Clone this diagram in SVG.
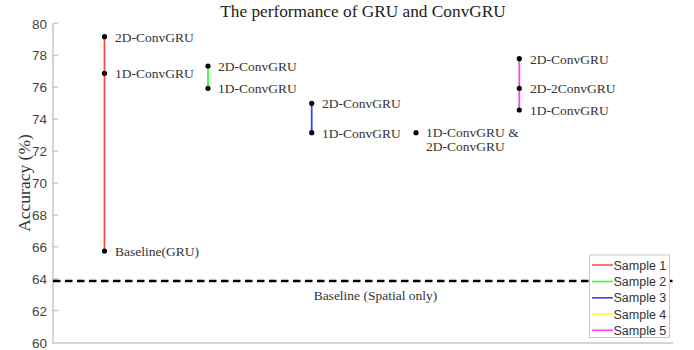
<svg xmlns="http://www.w3.org/2000/svg" width="694" height="350" viewBox="0 0 694 350">
<style>
.lbl{font-family:"Liberation Serif","Times New Roman",serif;font-size:13.5px;fill:#333}
.tick{font-family:"Liberation Sans",Arial,sans-serif;font-size:13.5px;fill:#444;text-anchor:end}
.leg{font-family:"Liberation Sans",Arial,sans-serif;font-size:12.5px;fill:#333}
.axis{stroke:#c8c8c8;stroke-width:1.5;fill:none}
.dot{fill:#000}
</style>
<rect width="694" height="350" fill="#fff"/>
<text x="363" y="17" text-anchor="middle" font-family="Liberation Serif,'Times New Roman',serif" font-size="17.3" fill="#222">The performance of GRU and ConvGRU</text>
<text transform="translate(30,183) rotate(-90)" text-anchor="middle" font-family="Liberation Serif,'Times New Roman',serif" font-size="17.5" fill="#333">Accuracy (%)</text>
<g id="axes">
<path class="axis" d="M53,23.5V343H673"/>
<path class="axis" d="M53,23.5h5M53,55.4h5M53,87.3h5M53,119.2h5M53,151.1h5M53,183h5M53,214.9h5M53,246.8h5M53,278.7h5M53,310.6h5"/>
<text class="tick" x="47" y="28.5">80</text>
<text class="tick" x="47" y="60.4">78</text>
<text class="tick" x="47" y="92.3">76</text>
<text class="tick" x="47" y="124.2">74</text>
<text class="tick" x="47" y="156.1">72</text>
<text class="tick" x="47" y="188">70</text>
<text class="tick" x="47" y="219.9">68</text>
<text class="tick" x="47" y="251.8">66</text>
<text class="tick" x="47" y="283.7">64</text>
<text class="tick" x="47" y="315.6">62</text>
<text class="tick" x="47" y="347.5">60</text>
</g>
<g id="baseline">
<line x1="53" y1="281" x2="676" y2="281" stroke="#000" stroke-width="2.5" stroke-dasharray="7.5,4.5"/>
<text class="lbl" x="375.5" y="300" text-anchor="middle">Baseline (Spatial only)</text>
</g>
<g id="connectors">
<line x1="104.5" y1="36.7" x2="104.5" y2="251" stroke="#ff4b4b" stroke-width="1.8"/>
<line x1="208" y1="66" x2="208" y2="88.3" stroke="#33ff33" stroke-width="1.8"/>
<line x1="311.7" y1="103.3" x2="311.7" y2="132.7" stroke="#3d3dff" stroke-width="1.8"/>
<line x1="519.3" y1="58.7" x2="519.3" y2="110" stroke="#ff40ff" stroke-width="1.8"/>
</g>
<g id="sample1">
<circle class="dot" cx="104.5" cy="36.7" r="2.6"/>
<circle class="dot" cx="104.5" cy="73.3" r="2.6"/>
<circle class="dot" cx="104.5" cy="251" r="2.6"/>
<text class="lbl" x="115" y="41.5">2D-ConvGRU</text>
<text class="lbl" x="115" y="78">1D-ConvGRU</text>
<text class="lbl" x="115" y="256">Baseline(GRU)</text>
</g>
<g id="sample2">
<circle class="dot" cx="208" cy="66" r="2.6"/>
<circle class="dot" cx="208" cy="88.3" r="2.6"/>
<text class="lbl" x="218" y="71">2D-ConvGRU</text>
<text class="lbl" x="218" y="93">1D-ConvGRU</text>
</g>
<g id="sample3">
<circle class="dot" cx="311.7" cy="103.3" r="2.6"/>
<circle class="dot" cx="311.7" cy="132.7" r="2.6"/>
<text class="lbl" x="322" y="108">2D-ConvGRU</text>
<text class="lbl" x="322" y="137.5">1D-ConvGRU</text>
</g>
<g id="sample4">
<circle class="dot" cx="416" cy="132.7" r="2.6"/>
<text class="lbl" x="426" y="137">1D-ConvGRU &amp;</text>
<text class="lbl" x="426" y="150.5">2D-ConvGRU</text>
</g>
<g id="sample5">
<circle class="dot" cx="519.3" cy="58.7" r="2.6"/>
<circle class="dot" cx="519.3" cy="88.3" r="2.6"/>
<circle class="dot" cx="519.3" cy="110" r="2.6"/>
<text class="lbl" x="530" y="63.5">2D-ConvGRU</text>
<text class="lbl" x="530" y="93">2D-2ConvGRU</text>
<text class="lbl" x="530" y="115">1D-ConvGRU</text>
</g>
<g id="legend">
<rect x="589.5" y="255" width="80" height="82.5" fill="#fff" stroke="#c8c8c8" stroke-width="1"/>
<line x1="592" y1="265" x2="613" y2="265" stroke="#ff4b4b" stroke-width="1.6"/>
<line x1="592" y1="281.5" x2="613" y2="281.5" stroke="#33ff33" stroke-width="1.6"/>
<line x1="592" y1="297.8" x2="613" y2="297.8" stroke="#3d3dff" stroke-width="1.6"/>
<line x1="592" y1="314" x2="613" y2="314" stroke="#ffff33" stroke-width="1.6"/>
<line x1="592" y1="330.3" x2="613" y2="330.3" stroke="#ff40ff" stroke-width="1.6"/>
<text class="leg" x="613.5" y="269.5">Sample 1</text>
<text class="leg" x="613.5" y="286">Sample 2</text>
<text class="leg" x="613.5" y="302.3">Sample 3</text>
<text class="leg" x="613.5" y="318.5">Sample 4</text>
<text class="leg" x="613.5" y="334.8">Sample 5</text>
</g>
</svg>
